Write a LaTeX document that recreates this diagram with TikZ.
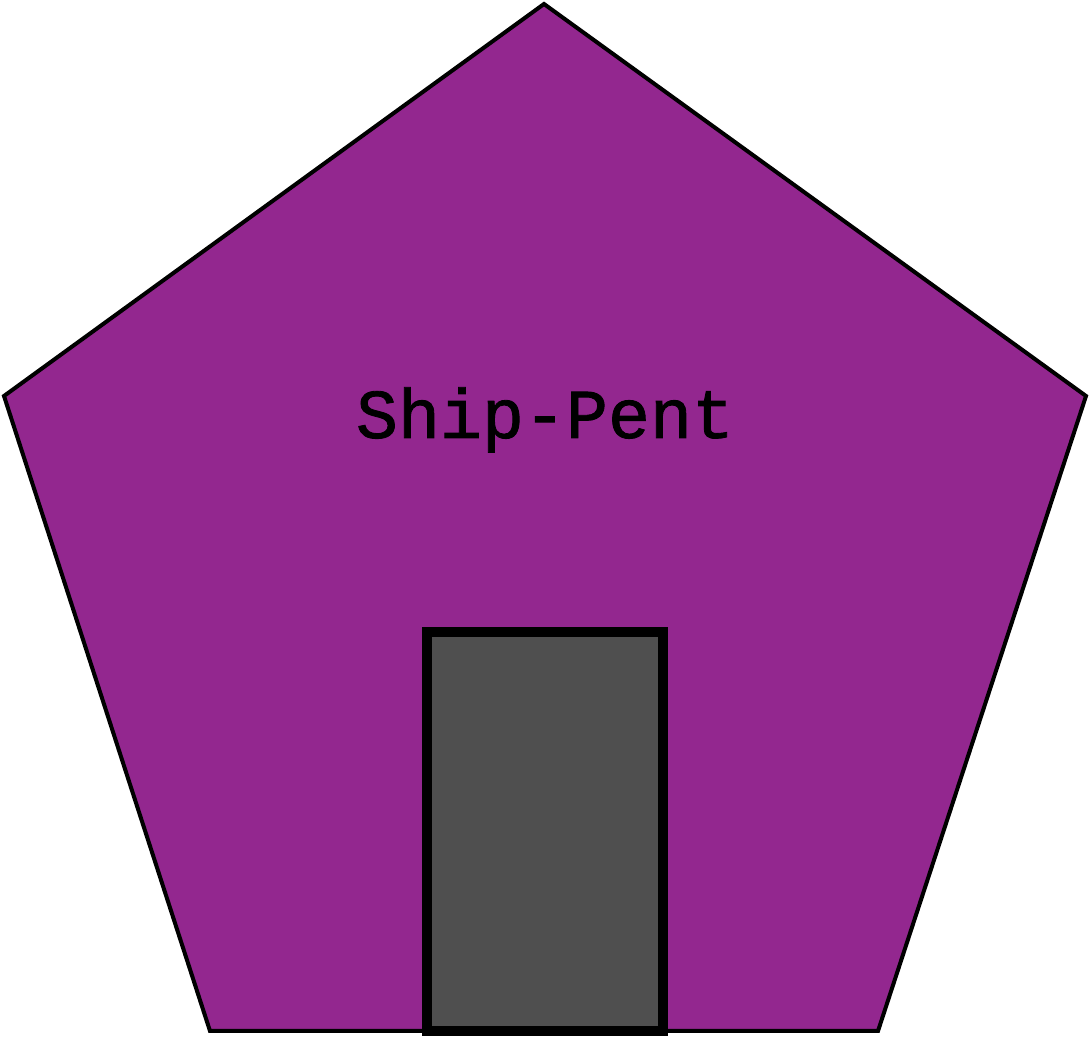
\documentclass[tikz,border=0pt]{standalone}
\usepackage{fontspec}
\newfontfamily\labelfont[FakeBold=1.2]{Liberation Mono}
\definecolor{pentpurple}{HTML}{93278F}
\definecolor{doorgray}{HTML}{4F4F4F}
\tikzset{
  pentshape/.style={fill=pentpurple, draw=black, line width=4pt, line join=miter},
  doorshape/.style={fill=doorgray, draw=black, line width=10pt},
  pentlabel/.style={font=\labelfont\fontsize{70}{70}\selectfont, anchor=base, inner sep=0pt}
}
\begin{document}
\begin{tikzpicture}[x=1pt,y=1pt]
\useasboundingbox (0,0) rectangle (1089,1038);
\coordinate (top) at (544,1034);
\coordinate (left) at (4,642);
\coordinate (right) at (1086,642);
\coordinate (bl) at (210,7);
\coordinate (br) at (878,7);
\draw[pentshape] (top) -- (right) -- (br) -- (bl) -- (left) -- cycle;
\draw[doorshape] (427,6.5) rectangle (663,406);
\node[pentlabel] (label) at (545,600) {Ship-Pent};
\end{tikzpicture}
\end{document}
